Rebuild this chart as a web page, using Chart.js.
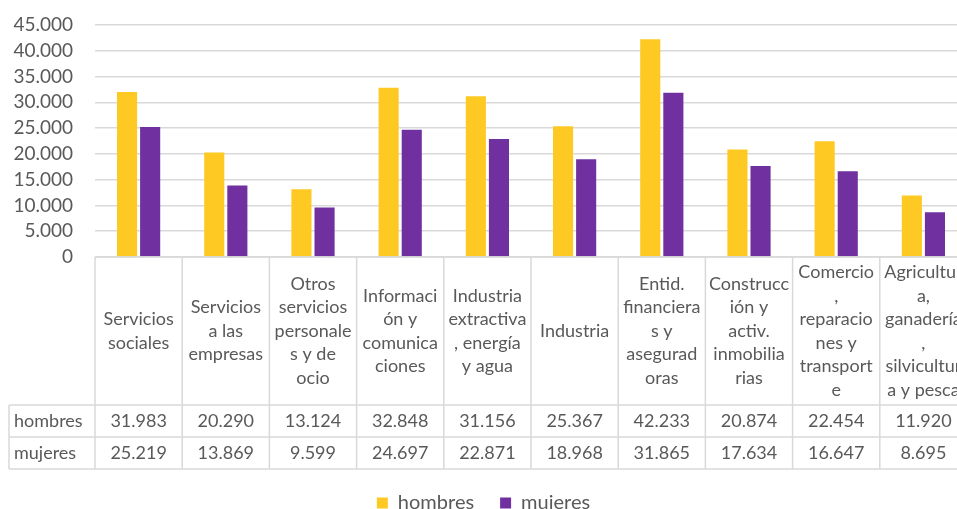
<!DOCTYPE html>
<html>
<head>
<meta charset="utf-8">
<script src="https://cdn.jsdelivr.net/npm/chart.js@4/dist/chart.umd.min.js"></script>
<style>
  html, body { margin: 0; padding: 0; background: #fff; overflow: hidden; }
  #wrap { width: 968px; height: 523px; }
</style>
</head>
<body>
<div id="wrap"><canvas id="salarios" width="968" height="523"></canvas></div>
<script>
// sectores, as wrapped in the data table header
const sectores = [
  ["Servicios", "sociales"],
  ["Servicios", "a las", "empresas"],
  ["Otros", "servicios", "personale", "s y de", "ocio"],
  ["Informaci", "ón y", "comunica", "ciones"],
  ["Industria", "extractiva", ", energía", "y agua"],
  ["Industria"],
  ["Entid.", "financiera", "s y", "asegurad", "oras"],
  ["Construcc", "ión y", "activ.", "inmobilia", "rias"],
  ["Comercio", ",", "reparacio", "nes y", "transport", "e"],
  ["Agricultur", "a,", "ganadería", ",", "silvicultur", "a y pesca"]
];
const hombres = [31983, 20290, 13124, 32848, 31156, 25367, 42233, 20874, 22454, 11920];
const mujeres = [25219, 13869, 9599, 24697, 22871, 18968, 31865, 17634, 16647, 8695];
const yTicks = [0, 5000, 10000, 15000, 20000, 25000, 30000, 35000, 40000, 45000];

const AMARILLO = "#FFC923";
const MORADO = "#7030A0";
const GRIS_TEXTO = "#595959";
const GRIS_LINEA = "#d9d9d9";
const FUENTE = "Lato, 'Liberation Sans', sans-serif";

// 12345 -> "12.345"
const fmt = (v) => String(v).replace(/\B(?=(\d{3})+(?!\d))/g, ".");

const HEADER_H = 148;
const ROW_H = 32;
const ROW_LABEL_LEFT = 9;

// data table under the plot, laid out on the x scale
const tablaDatos = {
  id: "tablaDatos",
  afterDraw(chart) {
    const ctx = chart.ctx;
    const xs = chart.scales.x;
    const area = chart.chartArea;
    const n = sectores.length;
    const w = (area.right - area.left) / n;
    const top = area.bottom;
    const r1 = top + HEADER_H;
    const r2 = r1 + ROW_H;
    const r3 = r2 + ROW_H;

    ctx.save();
    ctx.strokeStyle = GRIS_LINEA;
    ctx.lineWidth = 1.5;
    ctx.beginPath();
    // horizontal rules
    ctx.moveTo(area.left, top); ctx.lineTo(area.right, top);
    [r1, r2, r3].forEach((y) => { ctx.moveTo(ROW_LABEL_LEFT, y); ctx.lineTo(area.right, y); });
    // vertical rules
    ctx.moveTo(ROW_LABEL_LEFT, r1); ctx.lineTo(ROW_LABEL_LEFT, r3);
    for (let i = 0; i <= n; i++) {
      const x = area.left + i * w;
      ctx.moveTo(x, top); ctx.lineTo(x, r3);
    }
    ctx.stroke();

    ctx.fillStyle = GRIS_TEXTO;
    ctx.font = "18px " + FUENTE;
    ctx.textAlign = "center";
    ctx.textBaseline = "middle";
    const lh = 23.5;
    sectores.forEach((lines, i) => {
      const cx = xs.getPixelForValue(i);
      const y0 = top + HEADER_H / 2 - (lines.length - 1) * lh / 2;
      lines.forEach((t, k) => ctx.fillText(t, cx, y0 + k * lh));
      ctx.fillText(fmt(hombres[i]), cx, r1 + ROW_H / 2);
      ctx.fillText(fmt(mujeres[i]), cx, r2 + ROW_H / 2);
    });
    ctx.textAlign = "left";
    ctx.fillText("hombres", ROW_LABEL_LEFT + 5, r1 + ROW_H / 2);
    ctx.fillText("mujeres", ROW_LABEL_LEFT + 5, r2 + ROW_H / 2);
    ctx.restore();
  }
};

new Chart(document.getElementById("salarios"), {
  type: "bar",
  data: {
    labels: sectores.map((l) => l.join(" ")),
    datasets: [
      { label: "hombres", data: hombres, backgroundColor: AMARILLO },
      { label: "mujeres", data: mujeres, backgroundColor: MORADO }
    ]
  },
  options: {
    responsive: false,
    animation: false,
    layout: { padding: { top: 25, right: 1, left: 0, bottom: 0 } },
    datasets: { bar: { categoryPercentage: 0.53, barPercentage: 0.87 } },
    scales: {
      x: {
        grid: { display: false },
        border: { display: false },
        ticks: { display: false },
        // room for the header row; the two value rows spill into the legend band
        afterFit(scale) { scale.height = 210; }
      },
      y: {
        min: 0,
        max: 45000,
        afterBuildTicks(scale) { scale.ticks = yTicks.map((v) => ({ value: v })); },
        afterFit(scale) {
          scale.width = 95;
          // the label gap should not push the plot down
          scale.paddingTop = 0;
          scale.paddingBottom = 0;
        },
        grid: { color: GRIS_LINEA, lineWidth: 1.5, drawTicks: false },
        border: { display: false },
        ticks: {
          autoSkip: false,
          padding: 22,
          color: GRIS_TEXTO,
          font: { family: FUENTE, size: 19 },
          callback: (v) => fmt(v)
        }
      }
    },
    plugins: {
      tooltip: { enabled: false },
      legend: {
        position: "bottom",
        labels: {
          boxWidth: 11,
          boxHeight: 11,
          padding: 26,
          color: GRIS_TEXTO,
          font: { family: FUENTE, size: 20 }
        }
      }
    }
  },
  plugins: [tablaDatos]
});
</script>
</body>
</html>
